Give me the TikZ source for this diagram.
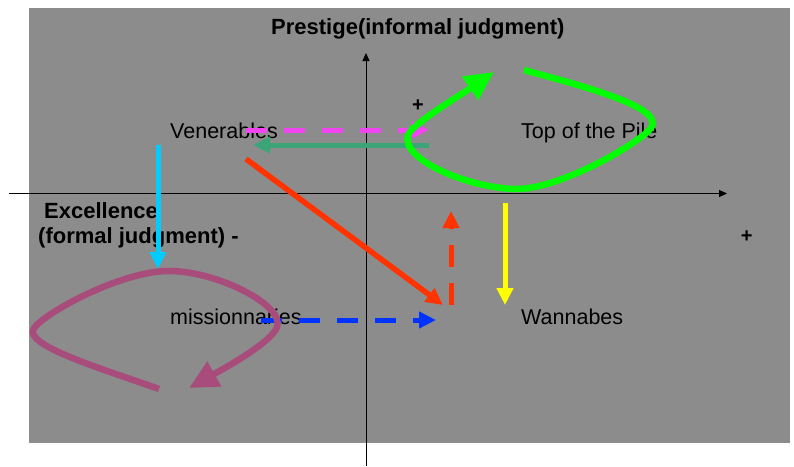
\documentclass[tikz,border=0pt]{standalone}
\usepackage{fontspec}
\setmainfont{Liberation Sans}
\usetikzlibrary{arrows.meta}
\definecolor{bggrey}{RGB}{140,140,140}
\definecolor{cmag}{RGB}{242,68,242}
\definecolor{cteal}{RGB}{60,165,120}
\definecolor{cred}{RGB}{255,51,0}
\definecolor{cblue}{RGB}{0,51,255}
\definecolor{cyel}{RGB}{255,255,0}
\definecolor{ccyan}{RGB}{0,204,255}
\definecolor{cgreen}{RGB}{0,255,0}
\definecolor{cpurp}{RGB}{168,76,124}
\begin{document}
\begin{tikzpicture}[x=1pt,y=-1pt,
  lbl/.style={inner sep=0pt, anchor=base west, font=\fontsize{21.5}{26}\selectfont},
  blbl/.style={inner sep=0pt, anchor=base west, font=\fontsize{22}{26}\selectfont\bfseries},
  plussign/.style={inner sep=0pt, font=\fontsize{20}{24}\selectfont\bfseries},
  axisline/.style={line width=1pt, -{Triangle[length=8pt,width=7pt]}},
  flow/.style={line width=5pt, -{Triangle[length=17pt,width=16pt]}},
  dashflow/.style={flow, dash pattern=on 21pt off 17pt},
  loopline/.style={line width=6.5pt, -{Triangle[length=29pt,width=27pt]}}
]
\useasboundingbox (0,0) rectangle (794,466);
\fill[bggrey] (29,8) rectangle (790,442.5);

% axes
\coordinate (yb) at (366,466);
\coordinate (yt) at (366,53);
\coordinate (xl) at (9,193.5);
\coordinate (xr) at (727,193.5);
\draw[axisline] (yb) -- (yt);
\draw[axisline] (xl) -- (xr);

% labels
\node[blbl] (prestige) at (271,34.5) {Prestige(informal judgment)};
\node[lbl] (ven) at (170,138) {Venerables};
\node[lbl] (top) at (521,138) {Top of the Pile};
\node[blbl] (exc1) at (44,218) {Excellence};
\node[blbl] (exc2) at (38,243) {(formal judgment) -};
\node[lbl] (miss) at (170,324) {missionnaries};
\node[lbl] (wan) at (521,324) {Wannabes};
\node[plussign] (plusy) at (418,105.5) {+};
\node[plussign] (plusx) at (746.7,236.5) {+};

% connector end points
\coordinate (m1) at (246,130);
\coordinate (m2) at (429,130);
\coordinate (t1) at (429,145);
\coordinate (t2) at (253,145);
\coordinate (r1) at (246,159);
\coordinate (r2) at (443,305);
\coordinate (rd1) at (451,305);
\coordinate (rd2) at (451,211);
\coordinate (b1) at (261,320);
\coordinate (b2) at (436,320);
\coordinate (y1) at (505,203);
\coordinate (y2) at (505,305);
\coordinate (c1) at (158,145);
\coordinate (c2) at (158,269);
\coordinate (g1) at (524,70);
\coordinate (g2) at (494,72);
\coordinate (p1) at (159,389);
\coordinate (p2) at (189,388);

% connectors
\draw[dashflow, cmag] (m1) -- (m2);
\draw[flow, cteal] (t1) -- (t2);
\draw[flow, cred, line width=5.5pt] (r1) -- (r2);
\draw[dashflow, cred, dash pattern=on 22pt off 16pt] (rd1) -- (rd2);
\draw[dashflow, cblue] (b1) -- (b2);
\draw[flow, cyel] (y1) -- (y2);
\draw[flow, ccyan] (c1) -- (c2);

\draw[loopline, cgreen] (g1) .. controls (590,88) and (665,108) .. (651,128)
  .. controls (641,142) and (560,190) .. (515,189)
  .. controls (470,188) and (400,160) .. (408,135)
  .. controls (411,125) and (462,94) .. (g2);

\draw[loopline, cpurp] (p1) .. controls (100,368) and (22,345) .. (34,328)
  .. controls (46,312) and (120,272) .. (167,271)
  .. controls (215,270) and (285,305) .. (277,327)
  .. controls (272,342) and (225,368) .. (p2);
\end{tikzpicture}
\end{document}
